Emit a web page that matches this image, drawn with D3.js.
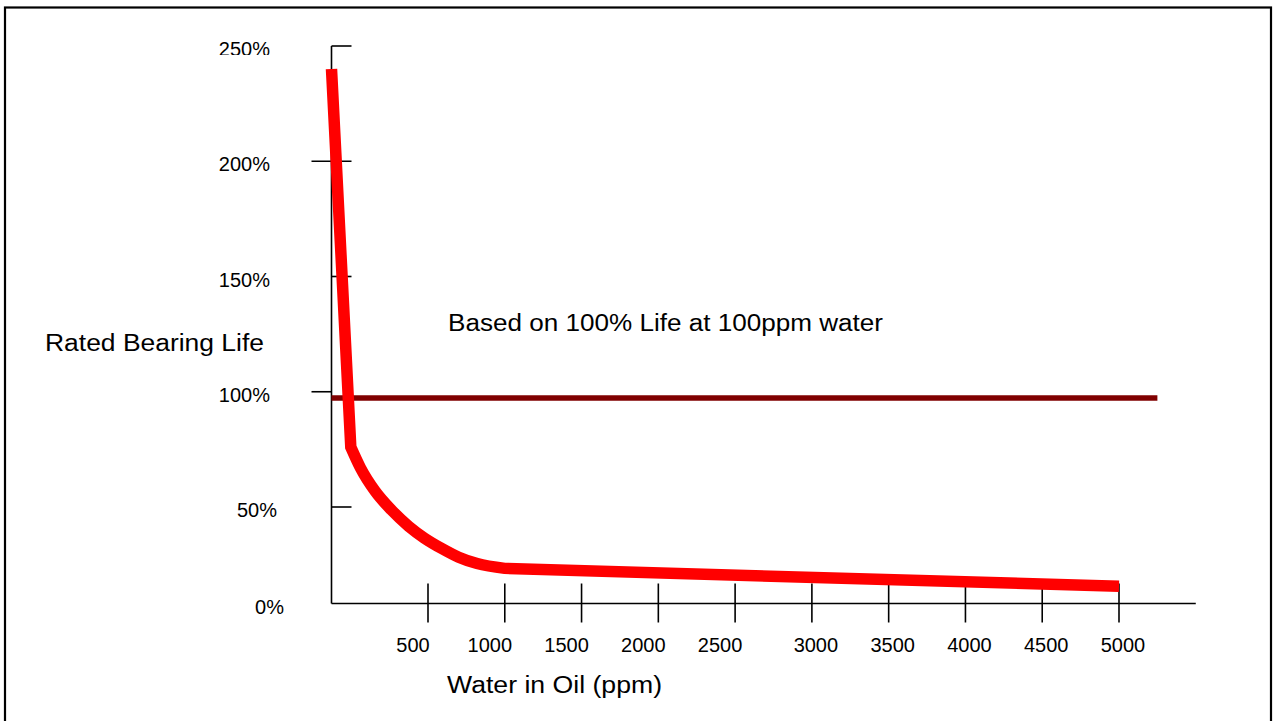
<!DOCTYPE html>
<html>
<head>
<meta charset="utf-8">
<script src="https://cdn.jsdelivr.net/npm/d3@7"></script>
<style>
  html, body { margin: 0; padding: 0; background: #fff; }
  svg { display: block; }
  text { font-family: "Liberation Sans", Arial, sans-serif; fill: #000; }
</style>
</head>
<body>
<svg id="chart" width="1273" height="721"></svg>
<script>
// ---- data ----
const waterPpm   = [0, 100, 150, 225, 310, 400, 480, 590, 700, 820, 1000, 5000];
const bearingLife = [240, 76, 67, 57, 48.5, 40, 34, 28.5, 24, 20.7, 18.2, 8.9];
const referenceLife = 97.3;          // dark-red "100%" reference line as drawn
const referenceExtent = [0, 5250];   // ppm span of the reference line
const xTicks = [500, 1000, 1500, 2000, 2500, 3000, 3500, 4000, 4500, 5000];
const yTicks = [0, 50, 100, 150, 200, 250];
const xAxisMax = 5500;
const xTitle = "Water in Oil (ppm)";
const yTitle = "Rated Bearing Life";
const note = "Based on 100% Life at 100ppm water";

// ---- scales (piecewise, as the original artwork is spaced) ----
const x = d3.scaleLinear().domain([0, 500, 5000]).range([331.5, 428, 1119]);
const y = d3.scaleLinear().domain([0, 50, 250]).range([603.5, 507, 46]);

const svg = d3.select("#chart");

// outer frame
svg.append("rect")
  .attr("x", 5).attr("y", 7.5).attr("width", 1266).attr("height", 740)
  .attr("fill", "none").attr("stroke", "#000").attr("stroke-width", 2.2);

// clip for the top label (cut at the frame of the original)
svg.append("defs").append("clipPath").attr("id", "topclip")
  .append("rect").attr("x", 0).attr("y", 0).attr("width", 1273).attr("height", 55);

// ---- axes ----
const axisG = svg.append("g").attr("stroke", "#000").attr("stroke-width", 1.6);
// y axis line
axisG.append("line")
  .attr("x1", x(0)).attr("x2", x(0))
  .attr("y1", y(250)).attr("y2", y(0));
// x axis line
axisG.append("line")
  .attr("x1", x(0)).attr("x2", x(xAxisMax))
  .attr("y1", y(0)).attr("y2", y(0));

// x ticks (cross the axis)
axisG.selectAll("line.xt").data(xTicks).join("line")
  .attr("class", "xt")
  .attr("x1", d => x(d)).attr("x2", d => x(d))
  .attr("y1", y(0) - 20).attr("y2", y(0) + 19);

// y ticks: side as drawn in the original
const tickSide = v => v === 200 ? [-20, 20] : v === 100 ? [-20, 0] : [0, 20];
axisG.selectAll("line.yt").data(yTicks.filter(v => v > 0)).join("line")
  .attr("class", "yt")
  .attr("x1", d => x(0) + tickSide(d)[0]).attr("x2", d => x(0) + tickSide(d)[1])
  .attr("y1", d => y(d)).attr("y2", d => y(d));

// x tick labels
const xLabelShift = v => v <= 2500 ? -15 : 4;
svg.selectAll("text.xl").data(xTicks).join("text")
  .attr("class", "xl")
  .attr("x", d => x(d) + xLabelShift(d))
  .attr("y", 652)
  .attr("text-anchor", "middle")
  .attr("font-size", 20)
  .text(d => d);

// y tick labels
const yLabelRight = v => v === 0 ? 284 : v === 50 ? 277 : 270;
svg.selectAll("text.yl").data(yTicks).join("text")
  .attr("class", "yl")
  .attr("x", d => yLabelRight(d))
  .attr("y", d => y(d) + 10)
  .attr("text-anchor", "end")
  .attr("font-size", 20)
  .attr("clip-path", d => d === 250 ? "url(#topclip)" : null)
  .text(d => d + "%");

// titles
svg.append("text").attr("x", 45).attr("y", 351)
  .attr("font-size", 23).attr("textLength", 219).attr("lengthAdjust", "spacingAndGlyphs")
  .text(yTitle);
svg.append("text").attr("x", 448).attr("y", 331)
  .attr("font-size", 23).attr("textLength", 435).attr("lengthAdjust", "spacingAndGlyphs")
  .text(note);
svg.append("text").attr("x", 447).attr("y", 693)
  .attr("font-size", 23).attr("textLength", 215).attr("lengthAdjust", "spacingAndGlyphs")
  .text(xTitle);

// ---- reference line ----
svg.append("line")
  .attr("x1", x(referenceExtent[0])).attr("x2", x(referenceExtent[1]))
  .attr("y1", y(referenceLife)).attr("y2", y(referenceLife))
  .attr("stroke", "#800000").attr("stroke-width", 5.5);

// ---- bearing life curve ----
const pts = waterPpm.map((p, i) => [x(p), y(bearingLife[i])]);
const straight = d3.line().curve(d3.curveLinear);
const smooth = d3.line().curve(d3.curveMonotoneX);
const n = pts.length;
const d1 = straight(pts.slice(0, 2));
const d2 = smooth(pts.slice(1, n - 1)).replace(/^M/, "L");
const d3p = straight(pts.slice(n - 2)).replace(/^M/, "L");
svg.append("path")
  .attr("d", d1 + d2 + d3p)
  .attr("fill", "none")
  .attr("stroke", "#ff0000")
  .attr("stroke-width", 11.5)
  .attr("stroke-linejoin", "miter")
  .attr("stroke-linecap", "butt");
</script>
</body>
</html>
